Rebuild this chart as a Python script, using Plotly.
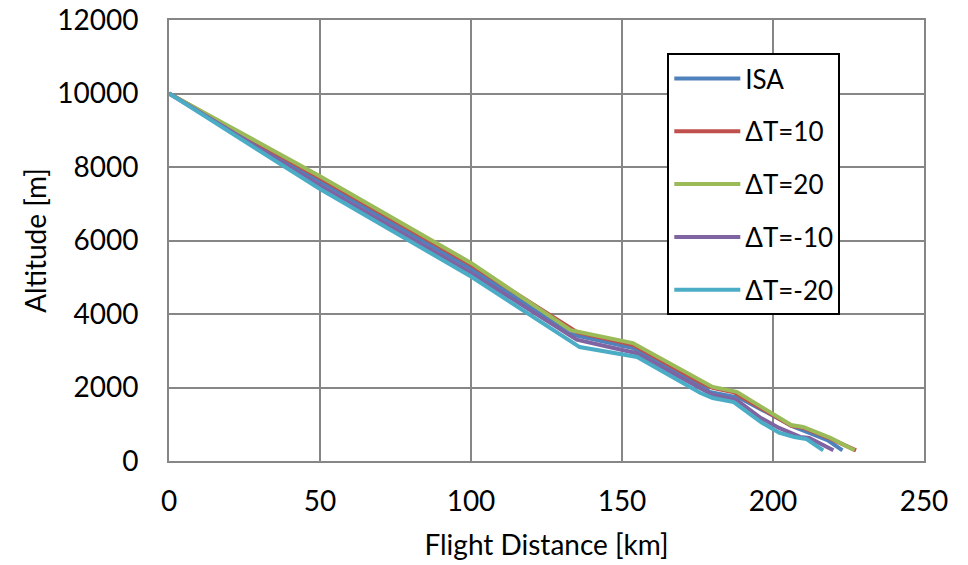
import plotly.graph_objects as go

# ---- data ----
names = ["ISA", "ΔT=10", "ΔT=20", "ΔT=-10", "ΔT=-20"]
colors = ["#4F81BD", "#C0504D", "#9BBB59", "#8064A2", "#4BACC6"]

isa_km = [0, 50, 100, 134, 153.6, 176, 179, 189, 207, 212, 218, 223]
isa_m = [10000, 7600, 5230, 3430, 3075, 2070, 1880, 1715, 925, 765, 570, 290]

dt10_km = [0, 50, 100, 135, 153.6, 176, 180, 187, 206, 210, 219, 227.5]
dt10_m = [10000, 7700, 5340, 3510, 3160, 2140, 1990, 1870, 960, 905, 610, 290]

dt20_km = [0, 50, 100, 133, 153.6, 176, 180, 188, 206, 210, 219, 227]
dt20_m = [10000, 7750, 5390, 3560, 3210, 2180, 2015, 1880, 980, 925, 630, 290]

dtm10_km = [0, 50, 100, 135, 154.5, 176, 180, 188, 196, 202, 209, 212, 220]
dtm10_m = [10000, 7500, 5120, 3300, 2940, 1990, 1800, 1660, 1170, 900, 655, 625, 290]

dtm20_km = [0, 50, 100, 136, 155, 176, 180, 187, 196, 202, 207, 211, 216.6]
dtm20_m = [10000, 7400, 5020, 3100, 2830, 1850, 1715, 1605, 1060, 770, 655, 600, 290]

series_x = [isa_km, dt10_km, dt20_km, dtm10_km, dtm20_km]
series_y = [isa_m, dt10_m, dt20_m, dtm10_m, dtm20_m]

x_ticks = [0, 50, 100, 150, 200, 250]
y_ticks = [0, 2000, 4000, 6000, 8000, 10000, 12000]
y_tick_text = ["0", "2000", "4000", "6000", "8000", "10000", "12000"]

FONT = "Lato"
GRID = "#868686"

fig = go.Figure()
for i, (n, c) in enumerate(zip(names, colors)):
    fig.add_trace(go.Scatter(
        x=series_x[i], y=series_y[i], mode="lines", name=n,
        line=dict(color=c, width=4), legendgroup=f"g{i}",
    ))

fig.update_layout(
    width=968, height=565,
    margin=dict(l=169, r=44, t=20, b=104, autoexpand=False),
    paper_bgcolor="white", plot_bgcolor="white",
    font=dict(family=FONT, size=28, color="#000000"),
    showlegend=True,
    legend=dict(
        x=0.66, y=0.925, xanchor="left", yanchor="top",
        bgcolor="white", bordercolor="#000000", borderwidth=2,
        font=dict(family=FONT, size=26, color="#000000"),
        tracegroupgap=16, itemwidth=66,
    ),
    xaxis=dict(
        range=[0, 250], tickvals=x_ticks, showgrid=True, gridcolor=GRID, gridwidth=2,
        showline=True, linecolor=GRID, linewidth=2, mirror=True, zeroline=False,
        ticks="", ticklabelstandoff=14, tickfont=dict(size=28), automargin=False,
        title=dict(text="Flight Distance [km]", font=dict(family=FONT, size=28), standoff=20),
    ),
    yaxis=dict(
        range=[0, 12000], tickvals=y_ticks, ticktext=y_tick_text,
        showgrid=True, gridcolor=GRID, gridwidth=2,
        showline=True, linecolor=GRID, linewidth=2, mirror=True, zeroline=False,
        ticks="", ticklabelstandoff=23, tickfont=dict(size=28), automargin=False,
        title=dict(text="Altitude [m]", font=dict(family=FONT, size=28), standoff=2),
    ),
)

fig.write_html("out.html")
